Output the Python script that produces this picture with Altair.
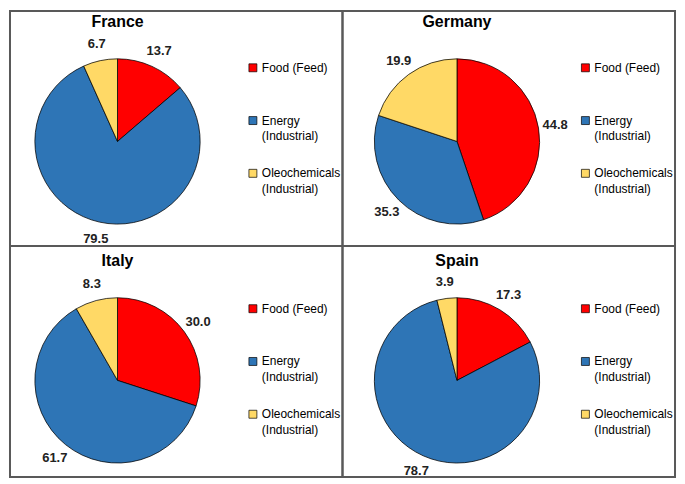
import altair as alt
import pandas as pd

countries = ["France", "Germany", "Italy", "Spain"]
categories = ["Food (Feed)", "Energy (Industrial)", "Oleochemicals (Industrial)"]
france = [13.7, 79.5, 6.7]
germany = [44.8, 35.3, 19.9]
italy = [30.0, 61.7, 8.3]
spain = [17.3, 78.7, 3.9]
colors = ["#FF0000", "#2E75B6", "#FFD966"]

FONT = "Liberation Sans"
PW = 334


def panel(name, values, cx, cy, ty, ly, ph):
    df = pd.DataFrame({"category": categories, "value": values, "idx": [0, 1, 2]})
    base = alt.Chart(df).encode(
        theta=alt.Theta("value:Q", stack=True),
        order=alt.Order("idx:Q"),
        x=alt.value(cx),
        y=alt.value(cy),
    )
    pie = base.mark_arc(outerRadius=83, stroke="black", strokeWidth=0.75).encode(
        color=alt.Color(
            "category:N",
            scale=alt.Scale(domain=categories, range=colors),
            title=None,
            legend=alt.Legend(
                orient="none",
                legendX=238,
                legendY=ly,
                symbolType="square",
                symbolSize=64,
                symbolStrokeColor="black",
                symbolStrokeWidth=0.7,
                symbolOpacity=1,
                labelFont=FONT,
                labelFontSize=12,
                labelColor="black",
                labelOffset=3,
                rowPadding=25,
                labelExpr="indexof(datum.label, 'Industrial') >= 0 ? split(datum.label, ' ') : [datum.label, ' ']",
            ),
        )
    )
    labels = base.mark_text(
        radius=100, font=FONT, fontSize=13, fontWeight="bold", color="#222222"
    ).encode(text=alt.Text("value:Q", format=".1f"))
    title = alt.Chart(pd.DataFrame({"country": [name]})).mark_text(
        font=FONT, fontSize=16, fontWeight="bold", color="black"
    ).encode(text="country:N", x=alt.value(cx), y=alt.value(ty))
    return alt.layer(pie, labels, title).properties(width=PW, height=ph)


p1 = panel(countries[0], france, 108, 131, 11, 51, 236)
p2 = panel(countries[1], germany, 115, 131, 11, 51, 236)
p3 = panel(countries[2], italy, 108, 135, 15, 57, 232)
p4 = panel(countries[3], spain, 115, 135, 15, 57, 232)

chart = (
    alt.concat(p1, p2, p3, p4, columns=2, spacing=0, bounds="flush")
    .resolve_legend(color="independent")
    .resolve_scale(theta="independent")
    .properties(padding=1, background="white")
    .configure(style={"guide-label": {"lineHeight": 16}})
    .configure_view(stroke="#595959", strokeWidth=2)
)

chart.save("out.html", embed_options={"renderer": "svg", "actions": False})
